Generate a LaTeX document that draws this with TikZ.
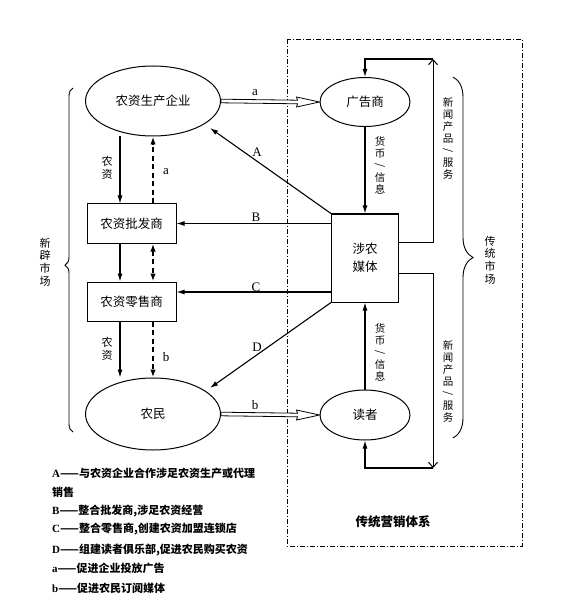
\documentclass[tikz,border=0pt]{standalone}
\usepackage{fontspec}
\setmainfont{Liberation Serif}
\newfontfamily\cjk{Noto Sans CJK SC}
\usetikzlibrary{shapes.geometric,arrows.meta,calc,decorations.pathreplacing}
\newcommand\vslash{\rotatebox[origin=c]{90}{/}}
\begin{document}
\begin{tikzpicture}[x=1pt,y=-1pt,
  ell/.style={ellipse,draw,line width=1pt,inner sep=0pt,font=\cjk\fontsize{12.5}{14}\selectfont},
  boxn/.style={rectangle,draw,line width=1pt,inner sep=0pt,align=center,font=\cjk\fontsize{12.5}{18}\selectfont},
  lab/.style={font=\fontsize{13}{13}\selectfont,inner sep=0pt},
  vlab/.style={font=\cjk\fontsize{10.5}{12}\selectfont,align=center,inner sep=0pt},
  mlab/.style={font=\cjk\fontsize{11}{12.7}\selectfont,align=center,inner sep=0pt},
  arr/.style={line width=1.1pt,-{Latex[length=8pt,width=5pt]}},
  darr/.style={line width=1.6pt,dash pattern=on 5pt off 3.5pt,-{Latex[length=8pt,width=5.5pt]}},
  barb/.style={line width=1pt,-{Straight Barb[length=5pt,width=9pt]}},
  hollow/.style={line width=0.8pt,fill=white,line join=miter},
  legend/.style={anchor=west,inner sep=0pt,font=\cjk\bfseries\fontsize{11}{12}\selectfont},
  frame/.style={line width=0.8pt,dash pattern=on 5pt off 2pt on 1pt off 2pt}]
\useasboundingbox (0,0) rectangle (566,612);
\fill[white] (0,0) rectangle (566,612);

% frame
\draw[frame] (287,39) rectangle (522,546);
\node[font=\cjk\bfseries\fontsize{12.5}{14}\selectfont,inner sep=0pt] (sys) at (393,522) {传统营销体系};

% nodes
\node[ell,minimum width=135pt,minimum height=70pt] (prod) at (153,101) {农资生产企业};
\node[ell,minimum width=90pt,minimum height=49pt] (adv) at (365,102) {广告商};
\node[boxn,minimum width=89pt,minimum height=39pt] (whole) at (131.5,223.5) {农资批发商};
\node[boxn,minimum width=89pt,minimum height=39pt] (retail) at (131.5,301.5) {农资零售商};
\node[ell,minimum width=135pt,minimum height=72pt] (farm) at (153,414) {农民};
\node[ell,minimum width=90pt,minimum height=50pt] (reader) at (365,415) {读者};
\node[boxn,minimum width=67pt,minimum height=88pt] (media) at (365,258) {涉农\\媒体};

\coordinate (x1) at (120,0);
\coordinate (x2) at (153,0);

% left chain solid
\draw[arr] (prod.south -| x1) -- (whole.north -| x1);
\draw[arr] (whole.south -| x1) -- (retail.north -| x1);
\draw[arr] (retail.south -| x1) -- (farm.north -| x1);
\node[mlab] (ln1) at (107,168) {农\\资};
\node[mlab] (ln2) at (107,349) {农\\资};

% dashed
\draw[darr] (whole.north -| x2) -- (prod.south -| x2);
\draw[darr,{Latex[length=8pt,width=5.5pt]}-{Latex[length=8pt,width=5.5pt]}] (whole.south -| x2) -- (retail.north -| x2);
\draw[darr] (retail.south -| x2) -- (farm.north);
\node[lab] (la1) at (166,172) {a};
\node[lab] (lb1) at (166,357) {b};

% A B C D
\coordinate (Atip) at (210,128);
\coordinate (Dtip) at (210,388);
\coordinate (cC) at ($(retail.north east)+(0,10.5)$);
\draw[arr] (media.north west) -- (Atip);
\draw[arr] (whole.east -| media.west) -- (whole.east);
\draw[arr] (cC -| media.west) -- (cC);
\draw[arr] (media.south west) -- (Dtip);
\node[lab] (lA) at (257,152) {A};
\node[lab] (lB) at (256,217) {B};
\node[lab] (lC) at (256,287) {C};
\node[lab] (lD) at (257,347) {D};

% hollow arrows
\draw[hollow] ($(prod.east)+(0,-1.8)$) -- ($(adv.west)+(-22,-1.8)$) -- ($(adv.west)+(-23,-5)$) -- (adv.west) -- ($(adv.west)+(-23,5)$) -- ($(adv.west)+(-22,1.8)$) -- ($(prod.east)+(0,1.8)$) -- cycle;
\draw[hollow] ($(farm.east)+(0,-1.8)$) -- ($(reader.west)+(-22,-1.8)$) -- ($(reader.west)+(-23,-5)$) -- (reader.west) -- ($(reader.west)+(-23,5)$) -- ($(reader.west)+(-22,1.8)$) -- ($(farm.east)+(0,1.8)$) -- cycle;
\node[lab] (la2) at (255,93) {a};
\node[lab] (lb2) at (255,405) {b};

% media <-> adv, reader
\draw[arr] (adv.south) -- (media.north);
\draw[arr] (reader.north) -- (media.south);
\node[vlab] (m1) at (380,165) {货\\币\\\vslash\\信\\息};
\node[vlab] (m2) at (380,352) {货\\币\\\vslash\\信\\息};

% loops
\coordinate (mo1) at ($(media.north east)+(0,29)$);
\coordinate (tr) at (433,59);
\draw[barb] (mo1) -| (tr);
\draw[arr] (tr) -| (adv.north);
\coordinate (mo2) at ($(media.south east)+(0,-29)$);
\coordinate (br) at (433,468);
\draw[barb] (mo2) -| (br);
\draw[arr] (br) -| (reader.south);
\node[vlab] (n1) at (448,138) {新\\闻\\产\\品\\\vslash\\服\\务};
\node[vlab] (n2) at (448,381) {新\\闻\\产\\品\\\vslash\\服\\务};

% braces
\draw[line width=0.9pt,decorate,decoration={brace,amplitude=8pt,aspect=0.485}] (73,432) -- (73,88);
\node[mlab] (newm) at (45,262) {新\\辟\\市\\场};
\draw[line width=0.9pt,decorate,decoration={brace,amplitude=20pt,aspect=0.5}] (453,77) -- (453,438);
\node[mlab] (oldm) at (490,260) {传\\统\\市\\场};

% legend
\node[legend] (g1) at (52,473) {\rmfamily A\cjk——与农资企业合作涉足农资生产或代理};
\node[legend] (g2) at (52,492) {销售};
\node[legend] (g3) at (52,511) {\rmfamily B\cjk——整合批发商,涉足农资经营};
\node[legend] (g4) at (52,529) {\rmfamily C\cjk——整合零售商,创建农资加盟连锁店};
\node[legend] (g5) at (52,550) {\rmfamily D\cjk——组建读者俱乐部,促进农民购买农资};
\node[legend] (g6) at (52,568) {\rmfamily a\cjk——促进企业投放广告};
\node[legend] (g7) at (52,588) {\rmfamily b\cjk——促进农民订阅媒体};
\end{tikzpicture}
\end{document}
